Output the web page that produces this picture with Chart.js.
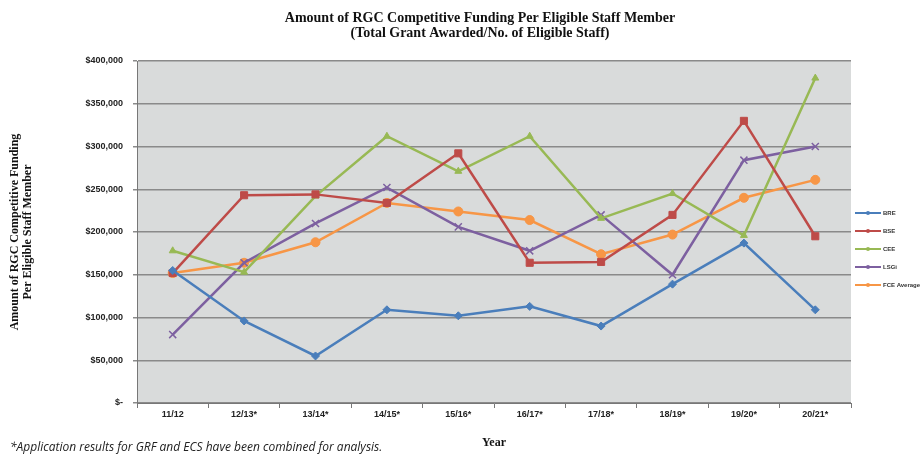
<!DOCTYPE html>
<html>
<head>
<meta charset="utf-8">
<script src="https://cdn.jsdelivr.net/npm/chart.js@4/dist/chart.umd.min.js"></script>
<style>
  html, body { margin: 0; padding: 0; background: #fff; }
  #wrap { width: 922px; height: 456px; }
</style>
</head>
<body>
<div id="wrap"><canvas id="fundChart" width="922" height="456"></canvas></div>
<script>
// data
const years = ["11/12", "12/13*", "13/14*", "14/15*", "15/16*", "16/17*", "17/18*", "18/19*", "19/20*", "20/21*"];
const bre = [155000, 96000, 55000, 109000, 102000, 113000, 90000, 139000, 187000, 109000];
const bse = [152000, 243000, 244000, 234000, 292000, 164000, 165000, 220000, 330000, 195000];
const cee = [178000, 153000, 242000, 312000, 271000, 312000, 216000, 245000, 196000, 380000];
const lsgi = [80000, 164000, 210000, 252000, 206000, 178000, 220000, 150000, 284000, 300000];
const fceAvg = [152000, 164000, 188000, 234000, 224000, 214000, 174000, 197000, 240000, 261000];
const seriesNames = ["BRE", "BSE", "CEE", "LSGi", "FCE Average"];
const titleLines = ["Amount of RGC Competitive Funding Per Eligible Staff Member", "(Total Grant Awarded/No. of Eligible Staff)"];

const colours = ["#4a7ebb", "#be4b48", "#98b954", "#7d60a0", "#f79646"];
const markers = ["rectRot", "rect", "triangle", "crossRot", "circle"];
const sizes = [4, 5, 4, 5, 4.5];

function makeSet(i, data) {
  return {
    label: seriesNames[i],
    data: data,
    borderColor: colours[i],
    backgroundColor: colours[i],
    pointStyle: markers[i],
    pointRadius: sizes[i],
    pointBorderWidth: markers[i] === "crossRot" ? 1.5 : 1,
    borderWidth: 2.5,
    tension: 0
  };
}

// grey plot area behind everything
const plotBg = {
  id: "plotBg",
  beforeDraw(chart) {
    const a = chart.chartArea, ctx = chart.ctx;
    ctx.save();
    ctx.fillStyle = "#d9dbdb";
    ctx.fillRect(a.left, a.top, a.right - a.left, a.bottom - a.top);
    ctx.restore();
  }
};

// title, legend on the right, footnote
const extras = {
  id: "extras",
  afterDraw(chart) {
    const ctx = chart.ctx;
    ctx.save();
    ctx.fillStyle = "#111";
    ctx.font = "bold 14px 'Liberation Serif', 'Times New Roman', serif";
    ctx.textAlign = "center";
    ctx.textBaseline = "middle";
    ctx.fillText(titleLines[0], 480, 18);
    ctx.fillText(titleLines[1], 480, 33);

    ctx.textAlign = "left";
    seriesNames.forEach((name, i) => {
      const y = 213 + i * 18;
      ctx.strokeStyle = colours[i];
      ctx.lineWidth = 2;
      ctx.beginPath();
      ctx.moveTo(855, y);
      ctx.lineTo(881, y);
      ctx.stroke();
      ctx.fillStyle = colours[i];
      ctx.beginPath();
      ctx.arc(868, y, 2, 0, Math.PI * 2);
      ctx.fill();
      ctx.fillStyle = "#333";
      ctx.font = "bold 6px 'Liberation Sans', Arial, sans-serif";
      ctx.fillText(name, 883, y);
    });
    ctx.fillStyle = "#222";
    ctx.font = "italic 12px 'Open Sans', 'Liberation Sans', sans-serif";
    ctx.fillText("*Application results for GRF and ECS have been combined for analysis.", 10, 448);
    ctx.restore();
  }
};

const ctx = document.getElementById("fundChart").getContext("2d");
new Chart(ctx, {
  type: "line",
  data: {
    labels: years,
    datasets: [
      makeSet(0, bre),
      makeSet(1, bse),
      makeSet(2, cee),
      makeSet(3, lsgi),
      makeSet(4, fceAvg)
    ]
  },
  options: {
    responsive: false,
    animation: false,
    layout: { padding: { top: 61, right: 71, left: 0, bottom: 0 } },
    plugins: {
      legend: { display: false },
      tooltip: { enabled: false },
      title: { display: false }
    },
    scales: {
      x: {
        offset: true,
        grid: { display: true, drawOnChartArea: false, drawTicks: true, tickLength: 5, offset: true, color: "#777" },
        border: { display: true, color: "#777", width: 1 },
        ticks: {
          color: "#222",
          padding: 1,
          maxRotation: 0,
          font: { family: "'Liberation Sans', Arial, sans-serif", size: 9, weight: "bold" }
        },
        title: {
          display: true,
          text: "Year",
          color: "#111",
          font: { family: "'Liberation Serif', 'Times New Roman', serif", size: 12, weight: "bold" },
          padding: { top: 14, bottom: 6 }
        },
        afterFit(scale) { scale.height = 53; }
      },
      y: {
        min: 0,
        max: 400000,
        ticks: {
          stepSize: 50000,
          color: "#222",
          padding: 10,
          font: { family: "'Liberation Sans', Arial, sans-serif", size: 9, weight: "bold" },
          callback: v => v === 0 ? "$-" : "$" + v.toLocaleString("en-US")
        },
        grid: { color: "#8a8a8a", lineWidth: 1.5, drawTicks: true, tickLength: 4 },
        border: { display: true, color: "#777", width: 1 },
        title: {
          display: true,
          text: ["Amount of RGC Competitive Funding", "Per Eligible Staff Member"],
          color: "#111",
          font: { family: "'Liberation Serif', 'Times New Roman', serif", size: 12, weight: "bold", lineHeight: 1.05 },
          padding: { top: 9, bottom: 30 }
        },
        afterFit(scale) { scale.width = 137; }
      }
    }
  },
  plugins: [plotBg, extras]
});
</script>
</body>
</html>
